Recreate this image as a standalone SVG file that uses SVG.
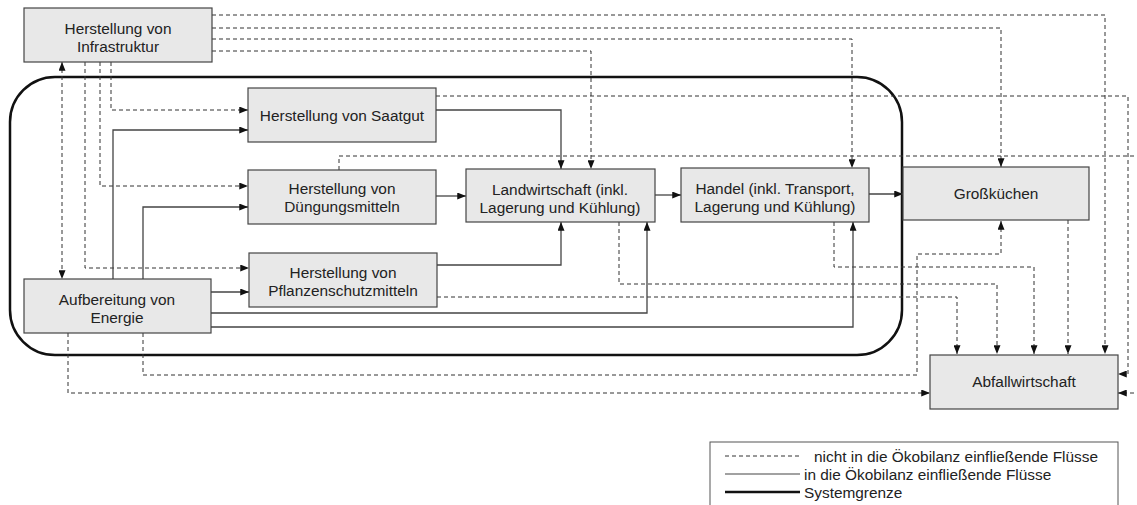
<svg xmlns="http://www.w3.org/2000/svg" width="1137" height="505" viewBox="0 0 1137 505">
<style>
.box{fill:#e8e8e8;stroke:#444;stroke-width:1.2}
.t{font-family:"Liberation Sans",Arial,sans-serif;font-size:15.4px;fill:#222;text-anchor:middle}
.lt{font-family:"Liberation Sans",Arial,sans-serif;font-size:15.4px;fill:#222}
.d{fill:none;stroke:#333;stroke-width:1;stroke-dasharray:4 3;marker-end:url(#a)}
.s{fill:none;stroke:#444;stroke-width:1.3;marker-end:url(#a)}
.bd{fill:none;stroke:#111;stroke-width:2.5}
</style>
<defs>
<marker id="a" viewBox="0 0 10 8" refX="10" refY="4" markerWidth="9" markerHeight="7" markerUnits="userSpaceOnUse" orient="auto-start-reverse">
<path d="M0,0 L10,4 L0,8 z" fill="#111"/>
</marker>
</defs>
<rect width="1137" height="505" fill="#fff"/>
<rect id="systemgrenze" class="bd" x="10" y="77" width="892" height="278" rx="45" ry="45"/>
<g id="connectors">
<path class="d" d="M212,15 H1105 V354"/>
<path class="d" d="M212,28 H1001 V167"/>
<path class="d" d="M212,39 H852 V168"/>
<path class="d" d="M212,51 H591 V169"/>
<path class="d" d="M62,62 V279" style="marker-start:url(#a)"/>
<path class="d" d="M85,62 V268 H249"/>
<path class="d" d="M100,62 V186 H248"/>
<path class="d" d="M111,62 V110 H248"/>
<path class="d" d="M436,96 H1128 V374 H1118"/>
<path class="d" d="M339,170 V156 H1150 V393 H1118"/>
<path class="d" d="M437,297 H957 V354"/>
<path class="d" d="M619,222 V284 H997 V354"/>
<path class="d" d="M834,222 V267 H1034 V354"/>
<path class="d" d="M1068,220 V354"/>
<path class="d" d="M68,333 V393 H930"/>
<path class="d" d="M143,333 V375 H917 V254 H1001 V221"/>
<path class="s" d="M436,110 H561 V169"/>
<path class="s" d="M113,279 V130 H248"/>
<path class="s" d="M143,279 V207 H248"/>
<path class="s" d="M211,292 H249"/>
<path class="s" d="M211,313 H647 V222"/>
<path class="s" d="M211,327 H853 V222"/>
<path class="s" d="M437,265 H561 V222"/>
<path class="s" d="M436,196 H466"/>
<path class="s" d="M655,195 H681"/>
<path class="s" d="M869,194 H903"/>
</g>
<g id="infrastruktur">
<rect class="box" x="24" y="8" width="188" height="54"/>
<text class="t" x="118" y="33.5">Herstellung von</text>
<text class="t" x="118" y="51.5">Infrastruktur</text>
</g>
<g id="saatgut">
<rect class="box" x="248" y="88" width="188" height="54"/>
<text class="t" x="342" y="120.5">Herstellung von Saatgut</text>
</g>
<g id="duengung">
<rect class="box" x="248" y="170" width="188" height="54"/>
<text class="t" x="342" y="193.5">Herstellung von</text>
<text class="t" x="342" y="211.5">Düngungsmitteln</text>
</g>
<g id="pflanzenschutz">
<rect class="box" x="249" y="253" width="188" height="54"/>
<text class="t" x="343" y="277.5">Herstellung von</text>
<text class="t" x="343" y="295.5">Pflanzenschutzmitteln</text>
</g>
<g id="energie">
<rect class="box" x="24" y="279" width="187" height="54"/>
<text class="t" x="117" y="304.5">Aufbereitung von</text>
<text class="t" x="117" y="322.5">Energie</text>
</g>
<g id="landwirtschaft">
<rect class="box" x="466" y="169" width="189" height="53"/>
<text class="t" x="560" y="194.5">Landwirtschaft (inkl.</text>
<text class="t" x="560" y="212.5">Lagerung und Kühlung)</text>
</g>
<g id="handel">
<rect class="box" x="681" y="168" width="188" height="54"/>
<text class="t" x="775" y="193.5">Handel (inkl. Transport,</text>
<text class="t" x="775" y="211.5">Lagerung und Kühlung)</text>
</g>
<g id="grosskuechen">
<rect class="box" x="903" y="167" width="186" height="53"/>
<text class="t" x="996" y="198.5">Großküchen</text>
</g>
<g id="abfallwirtschaft">
<rect class="box" x="930" y="355" width="188" height="54"/>
<text class="t" x="1024" y="386.5">Abfallwirtschaft</text>
</g>
<g id="legende">
<rect x="710" y="442" width="408" height="70" fill="#fff" stroke="#555" stroke-width="1"/>
<line x1="725" y1="456" x2="800" y2="456" stroke="#333" stroke-width="1" stroke-dasharray="4 3"/>
<text class="lt" x="814" y="461.5">nicht in die Ökobilanz einfließende Flüsse</text>
<line x1="725" y1="474" x2="800" y2="474" stroke="#444" stroke-width="1.2"/>
<text class="lt" x="804" y="479.5">in die Ökobilanz einfließende Flüsse</text>
<line x1="725" y1="492" x2="800" y2="492" stroke="#111" stroke-width="2.5"/>
<text class="lt" x="804" y="497.5">Systemgrenze</text>
</g>
</svg>
